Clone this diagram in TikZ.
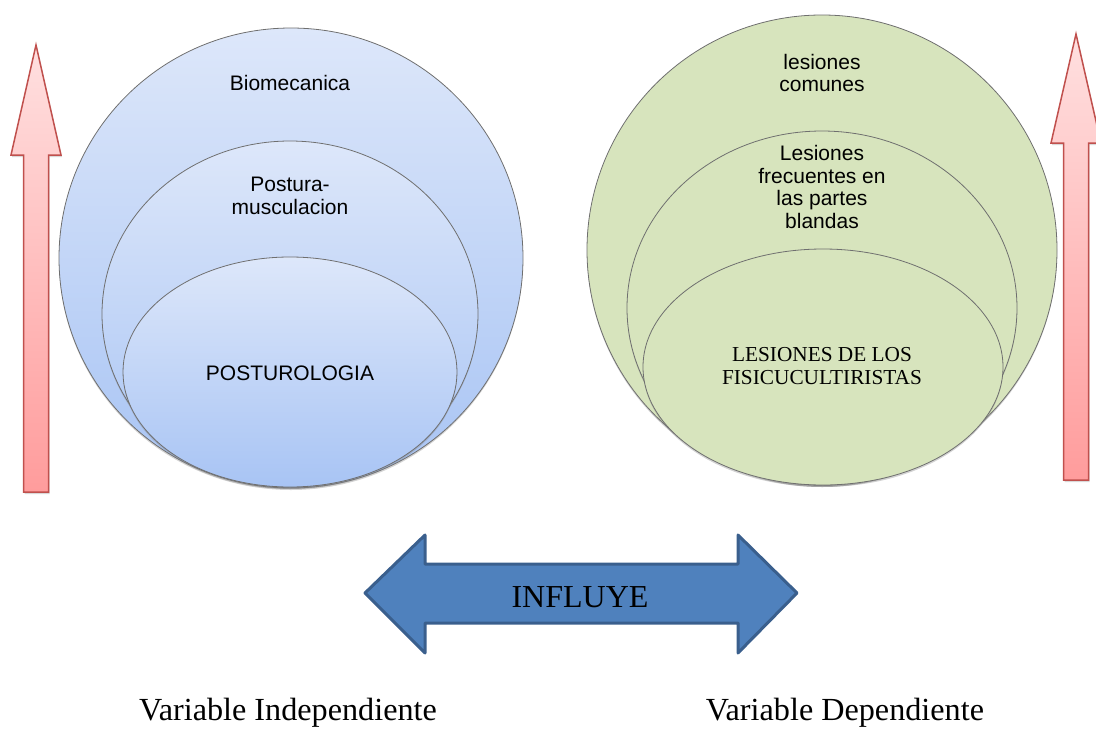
\documentclass[tikz,border=0pt]{standalone}
\usepackage{fontspec}
\setmainfont{Liberation Serif}
\newfontfamily\ringfont{Liberation Sans}
\usetikzlibrary{shadows}

\definecolor{blueTop}{HTML}{DDE7FA}
\definecolor{blueBot}{HTML}{A8C4F4}
\definecolor{ringLine}{HTML}{6F6F6F}
\definecolor{greenFill}{HTML}{D7E4BD}
\definecolor{redTop}{HTML}{FFE0E0}
\definecolor{redBot}{HTML}{FF9C9C}
\definecolor{redLine}{HTML}{C0504D}
\definecolor{arrowBlue}{HTML}{4F81BD}
\definecolor{arrowEdge}{HTML}{3A5F8D}

\begin{document}
\begin{tikzpicture}[x=1pt,y=-1pt,
  softshadow/.style={drop shadow={opacity=0.35,shadow xshift=0pt,shadow yshift=-2pt}},
  bluering/.style={draw=ringLine,line width=0.8pt,top color=blueTop,bottom color=blueBot,softshadow},
  greenring/.style={draw=ringLine,line width=0.8pt,fill=greenFill,softshadow},
  ringlabel/.style={font=\ringfont\fontsize{21}{22.4}\selectfont,align=center,inner sep=0pt},
  seriflabel/.style={font=\fontsize{21.3}{22.4}\selectfont,align=center,inner sep=0pt},
  uparrow/.style={draw=redLine,line width=1.5pt,top color=redTop,bottom color=redBot,line join=miter,
    drop shadow={opacity=0.3,shadow xshift=1pt,shadow yshift=-2pt}},
  linkarrow/.style={draw=arrowEdge,line width=3pt,fill=arrowBlue,line join=round},
  caption/.style={font=\fontsize{32.2}{36}\selectfont,inner sep=0pt}]

\useasboundingbox (0,0) rectangle (1096,731);

% rising arrows on both sides
\path[uparrow] (36,45) -- (61,155) -- (48.5,155) -- (48.5,492) -- (23.5,492)
  -- (23.5,155) -- (11,155) -- cycle;
\path[uparrow] (1076,34) -- (1101,143) -- (1088.5,143) -- (1088.5,480) -- (1063.5,480)
  -- (1063.5,143) -- (1051,143) -- cycle;

% nested rings: independent variable
\path[bluering] (291,258) ellipse [x radius=232pt,y radius=230pt];
\path[bluering] (290,314) ellipse [x radius=188pt,y radius=173pt];
\path[bluering] (290,372) ellipse [x radius=167pt,y radius=115pt];

% nested rings: dependent variable
\path[greenring] (822,250) ellipse [x radius=235pt,y radius=235pt];
\path[greenring] (822,308) ellipse [x radius=195pt,y radius=177pt];
\path[greenring] (823,367) ellipse [x radius=180pt,y radius=118pt];

% ring labels
\node[ringlabel] (bio) at (290,83) {Biomecanica};
\node[ringlabel] (post) at (290,196) {Postura-\\musculacion};
\node[ringlabel] (posturo) at (290,373) {POSTUROLOGIA};

\node[ringlabel] (comunes) at (822,73) {lesiones\\comunes};
\node[ringlabel] (blandas) at (822,187) {Lesiones\\frecuentes en\\las partes\\blandas};
\node[seriflabel] (fisico) at (822,366) {LESIONES DE LOS\\FISICUCULTIRISTAS};

% two-way influence arrow
\path[linkarrow] (365,593) -- (425,535) -- (425,564) -- (738,564) -- (738,535)
  -- (797,593) -- (738,653) -- (738,623) -- (425,623) -- (425,653) -- cycle;
\node[font=\fontsize{32}{36}\selectfont,inner sep=0pt] (influye) at (580,597) {INFLUYE};

% variable captions
\node[caption] (indep) at (288,713) {Variable Independiente};
\node[caption] (dep) at (845,713) {Variable Dependiente};

\end{tikzpicture}
\end{document}
